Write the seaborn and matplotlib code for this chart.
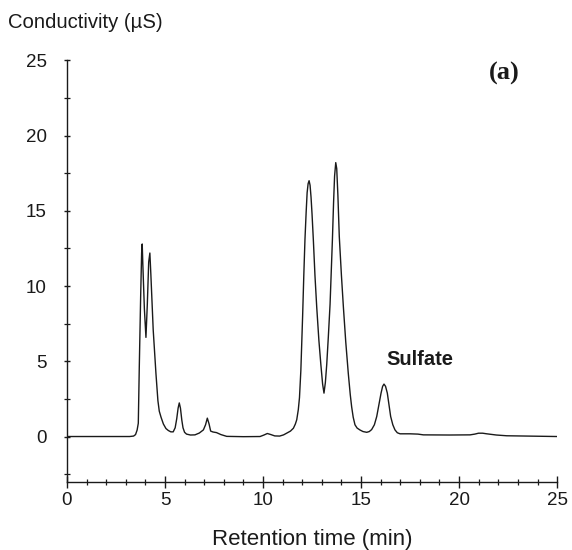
import matplotlib
matplotlib.use("Agg")
import matplotlib.pyplot as plt
from matplotlib.ticker import MultipleLocator
import seaborn as sns
import pandas as pd

# Chromatogram (retention time in min, conductivity in uS)
retention_time = [
    0.0, 3.2, 3.4, 3.5, 3.58, 3.64, 3.69, 3.76, 3.81, 3.84, 3.87, 3.95, 4.03,
    4.1, 4.17, 4.23, 4.28, 4.4, 4.54, 4.64, 4.71, 4.8, 4.92, 5.05, 5.17, 5.3,
    5.42, 5.52, 5.6, 5.67, 5.73, 5.79, 5.86, 5.92, 6.0, 6.1, 6.3, 6.53, 6.75,
    6.96, 7.07, 7.16, 7.25, 7.33, 7.45, 7.63, 7.85, 8.15, 9.0, 9.85, 10.05,
    10.22, 10.4, 10.6, 10.85, 11.05, 11.2, 11.4, 11.55, 11.65, 11.72, 11.8,
    11.86, 11.93, 12.02, 12.08, 12.14, 12.2, 12.25, 12.3, 12.35, 12.4, 12.45,
    12.5, 12.57, 12.65, 12.74, 12.85, 12.95, 13.04, 13.11, 13.18, 13.25, 13.33,
    13.42, 13.48, 13.54, 13.6, 13.65, 13.71, 13.76, 13.82, 13.89, 14.0, 14.1,
    14.22, 14.35, 14.45, 14.52, 14.6, 14.69, 14.8, 14.95, 15.1, 15.29, 15.42,
    15.54, 15.68, 15.8, 15.92, 16.02, 16.1, 16.17, 16.25, 16.34, 16.43, 16.51,
    16.62, 16.73, 16.85, 16.99, 17.5, 17.9, 18.18, 19.5, 20.56, 20.8, 20.99,
    21.2, 21.41, 21.9, 22.43, 25.0,
]
conductivity = [
    0.02, 0.02, 0.05, 0.15, 0.45, 0.9, 4.6, 9.3, 12.2, 12.8, 11.5, 8.5, 6.6,
    8.8, 11.6, 12.2, 10.8, 7.1, 4.2, 2.4, 1.7, 1.3, 0.85, 0.55, 0.42, 0.33,
    0.33, 0.6, 1.2, 1.9, 2.25, 1.9, 1.1, 0.6, 0.3, 0.18, 0.12, 0.13, 0.25,
    0.46, 0.8, 1.24, 0.85, 0.38, 0.32, 0.28, 0.15, 0.03, 0.01, 0.02, 0.12,
    0.22, 0.15, 0.06, 0.05, 0.13, 0.24, 0.38, 0.57, 0.85, 1.13, 1.8,
    2.6, 4.4, 8.0, 10.7, 13.1, 14.9, 16.2, 16.8, 17.0, 16.7, 15.9,
    14.8, 13.0, 10.7, 8.6, 6.4, 4.8, 3.5, 2.9, 3.6, 4.8, 6.6,
    8.8, 10.9, 13.1, 15.6, 17.3, 18.2, 17.8, 16.0, 13.3, 10.7, 8.6,
    6.3, 4.2, 2.8, 2.0, 1.3, 0.8, 0.58, 0.45, 0.35, 0.3, 0.35,
    0.48, 0.8, 1.35, 2.2, 2.9, 3.35, 3.5, 3.35, 2.9, 2.1, 1.35,
    0.8, 0.46, 0.27, 0.2, 0.2, 0.18, 0.13, 0.12, 0.13, 0.18, 0.24,
    0.24, 0.2, 0.12, 0.07, 0.02,
]

x_ticks = [0, 5, 10, 15, 20, 25]
y_ticks = [0, 5, 10, 15, 20, 25]
peak_label = "Sulfate"
panel_label = "(a)"

df = pd.DataFrame({"t": retention_time, "c": conductivity})

sns.set_style("ticks")
plt.rcParams["font.family"] = ["Liberation Sans", "DejaVu Sans"]

fig = plt.figure(figsize=(5.72, 5.5), dpi=100)
ax = fig.add_axes([0.117, 0.1236, 0.857, 0.767])

sns.lineplot(data=df, x="t", y="c", ax=ax, color="#1a1a1a", linewidth=1.0,
             estimator=None, sort=False)

ax.set_xlim(0, 25)
ax.set_ylim(-3, 25)
ax.set_xticks(x_ticks)
ax.set_yticks(y_ticks)
ax.xaxis.set_minor_locator(MultipleLocator(1))
ax.yaxis.set_minor_locator(MultipleLocator(2.5))
ax.set_xticklabels([str(v) for v in x_ticks])
ax.set_yticklabels([str(v) for v in y_ticks])

for s in ["top", "right"]:
    ax.spines[s].set_visible(False)
for s in ["left", "bottom"]:
    ax.spines[s].set_linewidth(1.0)
    ax.spines[s].set_color("#1a1a1a")

ax.tick_params(axis="x", which="major", direction="inout", length=9, width=1,
               labelsize=13.5, pad=3, colors="#1a1a1a")
ax.tick_params(axis="x", which="minor", direction="inout", length=5, width=0.9,
               colors="#1a1a1a")
ax.tick_params(axis="y", which="major", direction="inout", length=5, width=1,
               labelsize=13.5, pad=12, colors="#1a1a1a")
ax.tick_params(axis="y", which="minor", direction="inout", length=4, width=0.9,
               colors="#1a1a1a")

ax.set_xlabel("")
ax.set_ylabel("")
fig.text(312 / 572, 1 - 539 / 550, "Retention time (min)", fontsize=16,
         ha="center", va="center", color="#1a1a1a")
fig.text(8 / 572, 1 - 22 / 550, "Conductivity (µS)", fontsize=14.6,
         ha="left", va="center", color="#1a1a1a")

ax.text(16.28, 5.1, peak_label, fontsize=14.5, fontweight="bold",
        ha="left", va="center", color="#1a1a1a")
ax.text(22.3, 24.1, panel_label, fontsize=19, fontweight="bold",
        family=["Liberation Serif", "DejaVu Serif"],
        ha="center", va="center", color="#1a1a1a")

fig.savefig("out.png", dpi=100, facecolor="white")
